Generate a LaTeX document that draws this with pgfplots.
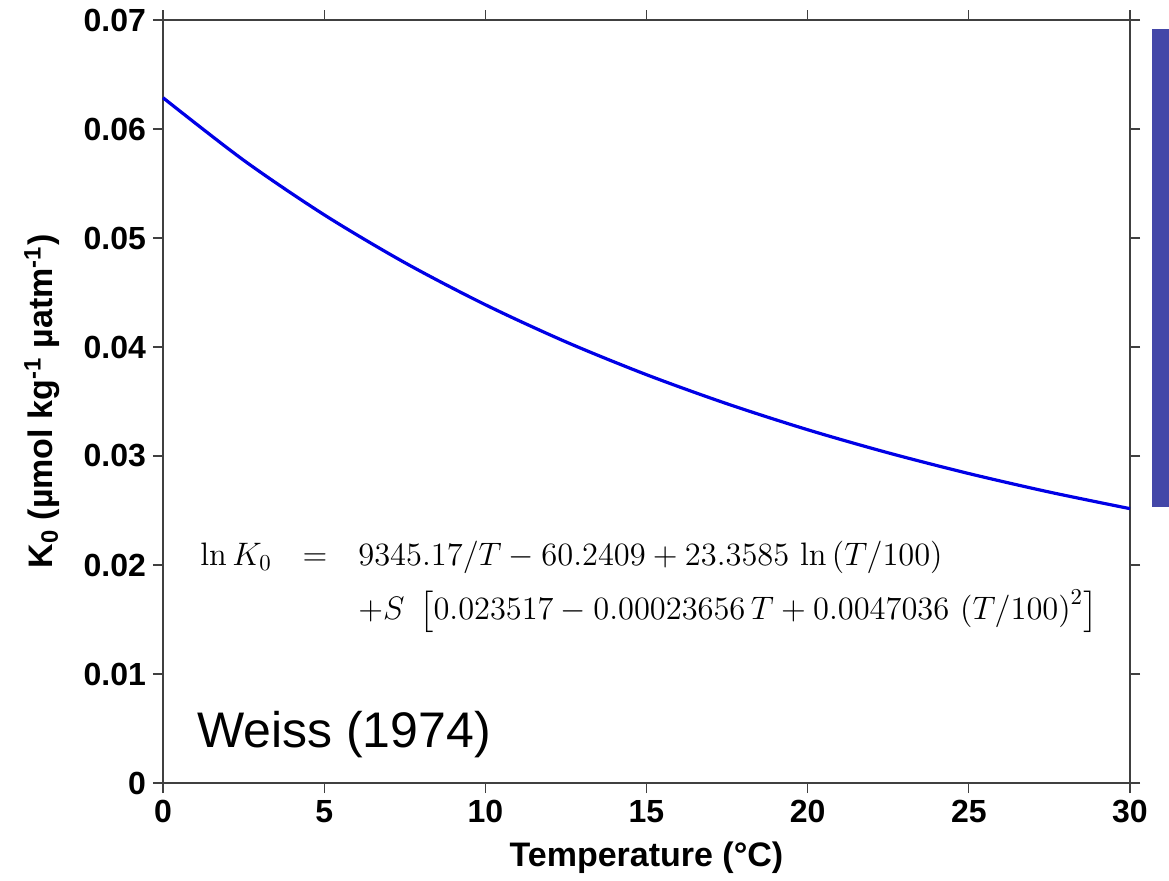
\RequirePackage{fix-cm}
\documentclass[border=0pt]{standalone}
\usepackage{amsmath}
\usepackage{pgfplots}
\pgfplotsset{compat=1.18}
\usepackage{pgfplotstable}
\usepackage[no-math]{fontspec}
\setmainfont{Liberation Sans}
\definecolor{barblue}{RGB}{68,71,168}
\definecolor{curveblue}{RGB}{0,0,230}
\pgfplotstableread{
t K
0    0.06287
2.5  0.05714
5    0.05213
7.5  0.04774
10   0.04388
12.5 0.04047
15   0.03746
17.5 0.03479
20   0.03241
22.5 0.03029
25   0.02839
27.5 0.02669
30   0.02517
}\weiss
\begin{document}
\begin{tikzpicture}
\begin{axis}[
  scale only axis, width=483.5pt, height=381.5pt,
  xmin=0, xmax=30, ymin=0, ymax=0.07,
  xtick={0,5,10,15,20,25,30}, xticklabels={0,5,10,15,20,25,30},
  ytick={0,0.01,0.02,0.03,0.04,0.05,0.06,0.07},
  yticklabels={0,0.01,0.02,0.03,0.04,0.05,0.06,0.07},
  scaled y ticks=false, scaled x ticks=false,
  tick align=outside, major tick length=5pt,
  tick style={black!75, line width=0.6pt},
  axis line style={black!75, line width=0.6pt},
  ticklabel style={font=\fontsize{16}{18}\selectfont\bfseries},
  xlabel={Temperature (°C)},
  ylabel={K\textsubscript{0} (µmol kg\textsuperscript{-1} µatm\textsuperscript{-1})},
  label style={font=\fontsize{17}{19}\selectfont\bfseries},
  xlabel style={at={(axis description cs:0.5,-0.098)}, anchor=center},
  ylabel style={at={(axis description cs:-0.125,0.5)}, anchor=center},
  clip=false,
]
\addplot[curveblue, line width=1.6pt, smooth] table[x=t, y=K] {\weiss};
\node[anchor=west, font=\fontsize{16.25}{19.5}\selectfont, inner sep=0pt] at (rel axis cs:0.0382,0.259)
  {$\setlength{\arraycolsep}{7.75pt}\begin{array}{@{}rcl@{}}
    \ln K_0 & = & 9345.17/T - 60.2409 + 23.3585\,\ln\left(T/100\right)\\[6pt]
    & & +S\ \left[0.023517 - 0.00023656\,T + 0.0047036\,\left(T/100\right)^2\right]
  \end{array}$};
\node[anchor=west, font=\fontsize{25}{28}\selectfont, inner sep=0pt] at (rel axis cs:0.035,0.063) {Weiss (1974)};
\end{axis}
\fill[barblue] (494.5pt,138pt) rectangle (503pt,377pt);
\pgfresetboundingbox
\useasboundingbox (-81.5pt,-48.5pt) rectangle (503pt,391.5pt);
\end{tikzpicture}
\end{document}
